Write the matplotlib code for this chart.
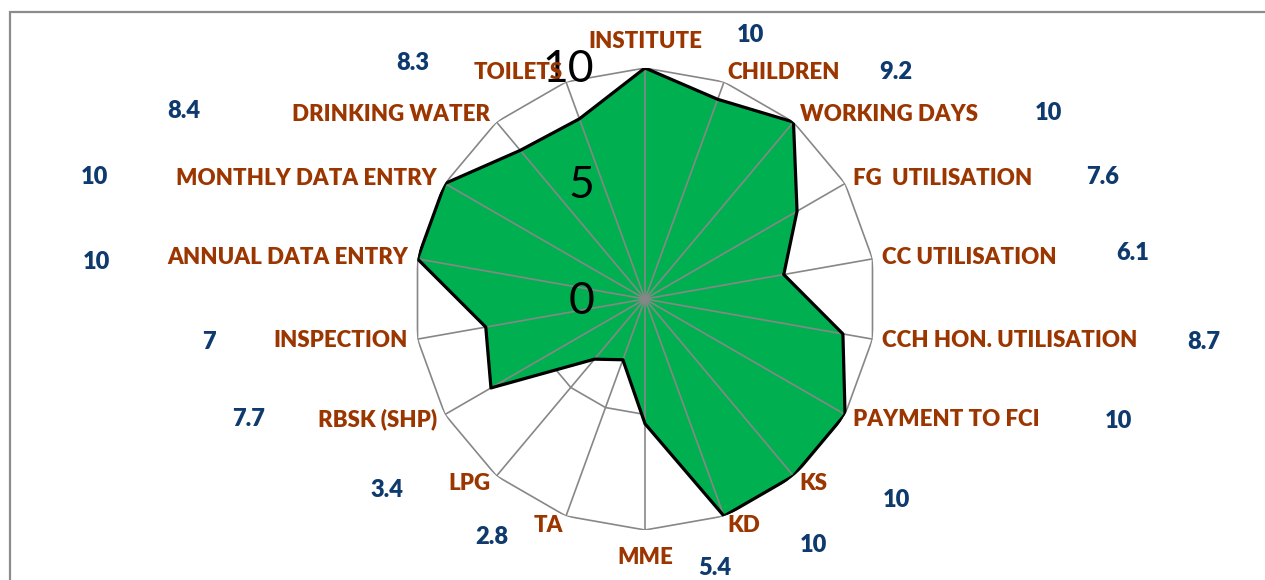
import numpy as np
import matplotlib
matplotlib.use("Agg")
import matplotlib.pyplot as plt
from matplotlib.patches import Rectangle

categories = ["INSTITUTE", "CHILDREN", "WORKING DAYS", "FG  UTILISATION", "CC UTILISATION",
              "CCH HON. UTILISATION", "PAYMENT TO FCI", "KS", "KD", "MME", "TA", "LPG",
              "RBSK (SHP)", "INSPECTION", "ANNUAL DATA ENTRY", "MONTHLY DATA ENTRY",
              "DRINKING WATER", "TOILETS"]
scores = [10, 9.2, 10, 7.6, 6.1, 8.7, 10, 10, 10, 5.4, 2.8, 3.4, 7.7, 7, 10, 10, 8.4, 8.3]
r_ticks = [0, 5, 10]

# where the blue value labels sit, in pixels from the outer vertex of each spoke
value_offsets = [(105, 33), (172, 10), (255, 9), (258, 7), (260, 6), (331, -3),
                 (273, -6), (103, -24), (89, -29), (70, -38), (-74, -21), (-110, -14),
                 (-196, -4), (-209, -3), (-321, -3), (-350, 7), (-313, 11), (-153, 19)]

BROWN = "#9C3600"
BLUE = "#0E3A6E"
GRID = "#878787"
GREEN = "#00B050"

n = len(categories)
theta = np.arange(n) * 2 * np.pi / n
theta_closed = np.append(theta, theta[0])
scores_closed = np.append(scores, scores[0])

fig = plt.figure(figsize=(12.65, 5.8), dpi=100)
ax = fig.add_axes([414 / 1265, 50 / 580, 462 / 1265, 462 / 580], projection="polar")
ax.set_theta_zero_location("N")
ax.set_theta_direction(-1)
ax.set_ylim(0, 10)
ax.grid(False)
ax.spines["polar"].set_visible(False)
ax.set_xticks([])
ax.set_yticks([])
ax.patch.set_alpha(0)

# polygon gridlines
for r in r_ticks[1:]:
    ax.plot(theta_closed, [r] * (n + 1), color=GRID, lw=1.2, zorder=1)

ax.fill(theta_closed, scores_closed, color=GREEN, zorder=2)
for t in theta:
    ax.plot([t, t], [0, 10], color=GRID, lw=1.2, zorder=3)
ax.plot(theta_closed, scores_closed, color="black", lw=2.3, zorder=4)

# radial tick labels
for r in r_ticks:
    ax.annotate(str(r), xy=(0, r), xytext=(-51, -2), textcoords="offset pixels",
                ha="right", va="center", fontsize=32, family="Lato",
                annotation_clip=False, zorder=5)

# category labels and values
for i, (t, name, v) in enumerate(zip(theta, categories, scores)):
    s, c = np.sin(t), np.cos(t)
    if abs(s) < 1e-6:
        dx, dy, ha = 0, 27 * np.sign(c), "center"
    else:
        dx, dy = 9.5 * s, 10 * c
        ha = "left" if s > 0 else "right"
    ax.annotate(name, xy=(t, 10), xytext=(dx, dy), textcoords="offset pixels",
                ha=ha, va="center", fontsize=16, fontweight="heavy", family="Lato",
                color=BROWN, annotation_clip=False, zorder=6)
    ox, oy = value_offsets[i]
    ax.annotate(f"{v:g}", xy=(t, 10), xytext=(ox, oy), textcoords="offset pixels",
                ha="center", va="center", fontsize=17, fontweight="heavy", family="Lato",
                color=BLUE, annotation_clip=False, zorder=6)

fig.add_artist(Rectangle((10 / 1265, -0.5), 2, 0.5 + 568 / 580, transform=fig.transFigure,
                         fill=False, ec="#8c8c8c", lw=1.6))

fig.savefig("out.png", dpi=100)
